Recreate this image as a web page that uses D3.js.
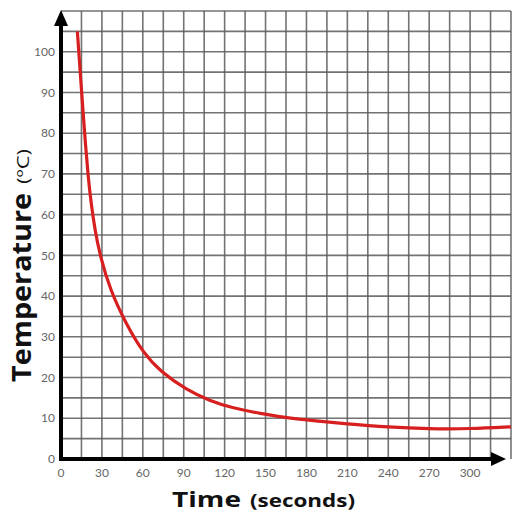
<!DOCTYPE html>
<html>
<head>
<meta charset="utf-8">
<script src="https://cdn.jsdelivr.net/npm/d3@7"></script>
<style>
  body { margin: 0; background: #fff; }
</style>
</head>
<body>
<script>
// cooling curve
var times = [12, 14, 16, 18, 20, 22, 25, 28.6, 36, 48, 60, 73, 92, 109, 126, 146, 168, 210, 240, 270, 300, 330];
var temps = [105, 95.5, 86, 77, 69, 63, 56, 50, 41.5, 33, 26.2, 21.4, 17, 14.3, 12.5, 11.2, 9.9, 8.6, 7.8, 7.4, 7.4, 7.9];
var xTicks = [0, 30, 60, 90, 120, 150, 180, 210, 240, 270, 300];
var yTicks = [0, 10, 20, 30, 40, 50, 60, 70, 80, 90, 100];

var width = 516, height = 519;

var svg = d3.select("body").append("svg")
    .attr("width", width)
    .attr("height", height);

var x = d3.scaleLinear().domain([0, 330]).range([61, 511]);
var y = d3.scaleLinear().domain([0, 110]).range([459, 11]);

// grid
var grid = svg.append("g")
    .attr("stroke", "#5a5a5a")
    .attr("stroke-width", 1.6)
    .attr("stroke-opacity", 0.85);

grid.selectAll(".v")
    .data(d3.range(15, 331, 15))
    .enter().append("line")
    .attr("x1", function(d) { return x(d); })
    .attr("x2", function(d) { return x(d); })
    .attr("y1", y(110))
    .attr("y2", y(0));

grid.selectAll(".h")
    .data(d3.range(5, 111, 5))
    .enter().append("line")
    .attr("x1", x(0))
    .attr("x2", x(330))
    .attr("y1", function(d) { return y(d); })
    .attr("y2", function(d) { return y(d); });

// curve (basis smooths out the reading noise)
var line = d3.line()
    .x(function(d) { return x(d[0]); })
    .y(function(d) { return y(d[1]); })
    .curve(d3.curveBasis);

svg.append("path")
    .datum(d3.zip(times, temps))
    .attr("fill", "none")
    .attr("stroke", "#d81f1f")
    .attr("stroke-width", 3.2)
    .attr("d", line);

// axes with arrows
svg.append("line")
    .attr("x1", x(0)).attr("x2", x(0))
    .attr("y1", y(0) + 2).attr("y2", 22)
    .attr("stroke", "#000").attr("stroke-width", 4);
svg.append("path")
    .attr("d", "M" + (x(0) - 7) + ",26 L" + x(0) + ",10 L" + (x(0) + 7) + ",26 Z")
    .attr("fill", "#000");

svg.append("line")
    .attr("x1", x(0) - 2).attr("x2", 495)
    .attr("y1", y(0)).attr("y2", y(0))
    .attr("stroke", "#000").attr("stroke-width", 4);
svg.append("path")
    .attr("d", "M491," + (y(0) - 7) + " L506," + y(0) + " L491," + (y(0) + 7) + " Z")
    .attr("fill", "#000");

// tick labels
svg.append("g").selectAll("text")
    .data(yTicks)
    .enter().append("text")
    .attr("x", 55)
    .attr("y", function(d) { return y(d); })
    .attr("dy", "0.35em")
    .attr("text-anchor", "end")
    .attr("fill", "#666")
    .style("font-family", "Lato, 'Open Sans', sans-serif")
    .style("font-size", "12px")
    .text(function(d) { return d; });

svg.append("g").selectAll("text")
    .data(xTicks)
    .enter().append("text")
    .attr("x", function(d) { return x(d); })
    .attr("y", 473)
    .attr("dy", "0.35em")
    .attr("text-anchor", "middle")
    .attr("fill", "#666")
    .style("font-family", "Lato, 'Open Sans', sans-serif")
    .style("font-size", "12px")
    .text(function(d) { return d; });

// axis titles
svg.append("text")
    .attr("x", 172)
    .attr("y", 507)
    .attr("fill", "#111")
    .attr("textLength", 69)
    .attr("lengthAdjust", "spacingAndGlyphs")
    .style("font-family", "'Open Sans', sans-serif")
    .style("font-weight", "bold")
    .style("font-size", "22px")
    .text("Time");
svg.append("text")
    .attr("x", 250)
    .attr("y", 507)
    .attr("fill", "#111")
    .attr("textLength", 105)
    .attr("lengthAdjust", "spacingAndGlyphs")
    .style("font-family", "'Open Sans', sans-serif")
    .style("font-weight", "bold")
    .style("font-size", "17px")
    .text("(seconds)");

svg.append("text")
    .attr("transform", "translate(31,382) rotate(-90)")
    .attr("fill", "#111")
    .attr("textLength", 189)
    .attr("lengthAdjust", "spacingAndGlyphs")
    .style("font-family", "'Open Sans', sans-serif")
    .style("font-weight", "bold")
    .style("font-size", "26px")
    .text("Temperature");
svg.append("text")
    .attr("transform", "translate(29,184) rotate(-90)")
    .attr("fill", "#111")
    .attr("textLength", 35)
    .attr("lengthAdjust", "spacingAndGlyphs")
    .style("font-family", "'Open Sans', sans-serif")
    .style("font-size", "17px")
    .text("(ºC)");
</script>
</body>
</html>
